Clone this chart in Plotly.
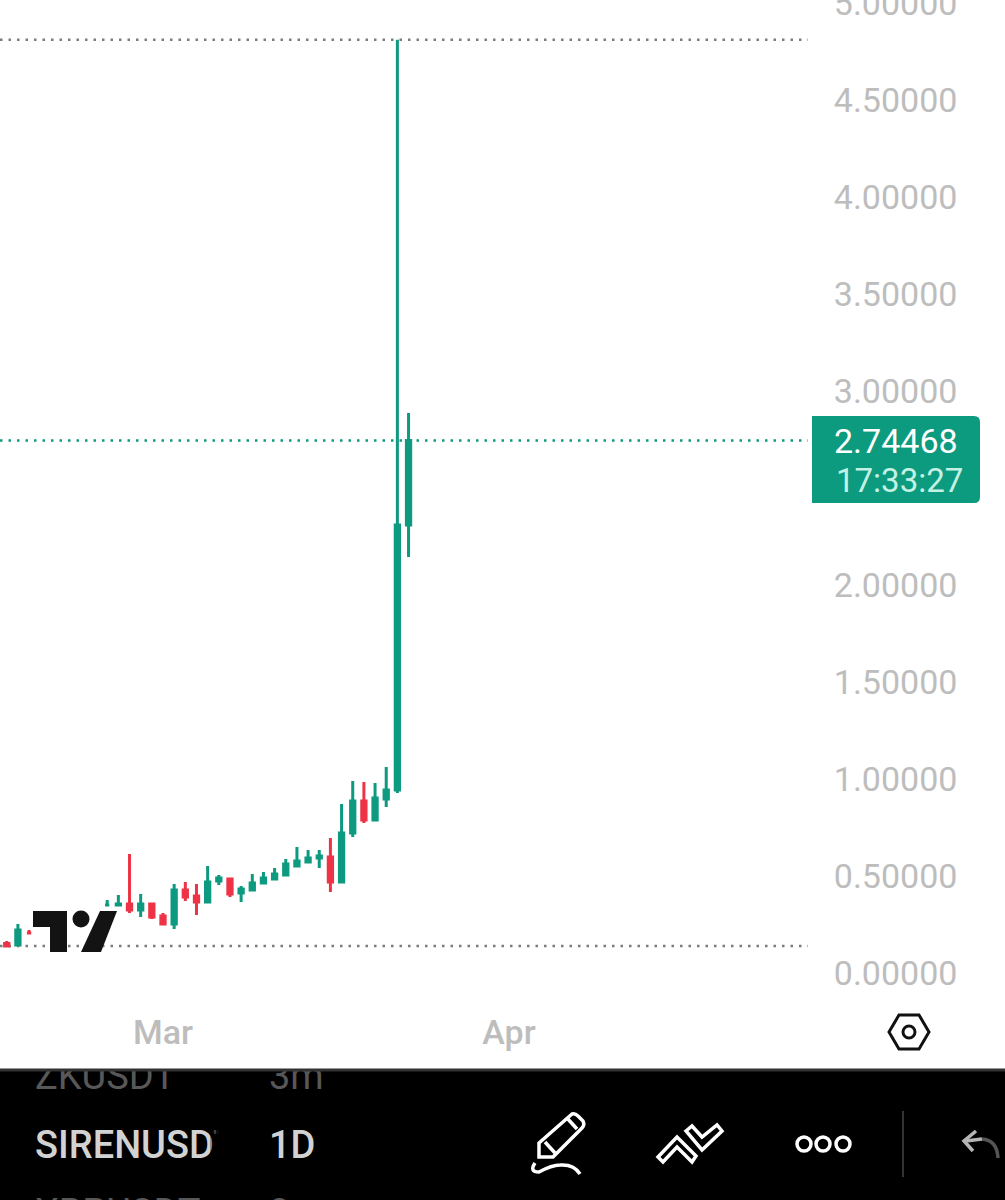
import plotly.graph_objects as go

# daily candles, a few days are hidden behind the TV logo so they are left out
dates = ['2026-02-15', '2026-02-16', '2026-02-17', '2026-02-24', '2026-02-25', '2026-02-26', '2026-02-27',
         '2026-02-28', '2026-03-01', '2026-03-02', '2026-03-03', '2026-03-04', '2026-03-05', '2026-03-06',
         '2026-03-07', '2026-03-08', '2026-03-09', '2026-03-10', '2026-03-11', '2026-03-12', '2026-03-13',
         '2026-03-14', '2026-03-15', '2026-03-16', '2026-03-17', '2026-03-18', '2026-03-19', '2026-03-20',
         '2026-03-21', '2026-03-22', '2026-03-23']
opens = [.152, .144, .206, .351, .351, .356, .325, .356, .294, .253, .428, .397, .366, .474, .485, .412,
         .428, .464, .485, .505, .552, .572, .593, .598, .469, .722, .887, .789, .897, .943, 2.309]
highs = [.165, .253, .222, .376, .402, .613, .407, .361, .309, .459, .469, .459, .552, .505, .485, .448,
         .510, .521, .541, .588, .649, .634, .634, .696, .871, .990, .985, .979, 1.062, 4.81, 2.887]
lows = [.139, .139, .206, .351, .351, .309, .289, .278, .247, .227, .371, .299, .361, .454, .392, .366,
        .428, .464, .485, .505, .552, .572, .541, .418, .469, .701, .773, .784, .856, .928, 2.144]
closes = [.139, .222, .206, .351, .356, .325, .356, .289, .253, .428, .392, .366, .469, .490, .407, .433,
          .464, .490, .510, .562, .577, .593, .603, .469, .722, .887, .789, .902, .943, 2.309, 2.74468]

y_ticks = [0, .5, 1, 1.5, 2, 3, 3.5, 4, 4.5, 5]  # 2.5 sits under the price label
x_tick_vals = ['2026-03-01', '2026-04-01']
x_tick_text = ['Mar', 'Apr']

high_level = 4.81
last_price = 2.74468
low_level = .139

symbols = ['ZKUSDT', 'SIRENUSDT', 'XRPUSDT']
intervals = ['3m', '1D', '3m']
row_y = [1079, 1148, 1216]
row_colors = ['#585858', '#d2d2d2', '#585858']
row_weights = [400, 500, 400]

GREEN = '#0d9a80'
RED = '#ee3347'
GREY = '#bdbdbd'
FONT = 'Roboto'

fig = go.Figure()
fig.add_trace(go.Candlestick(x=dates, open=opens, high=highs, low=lows, close=closes,
                             increasing=dict(line=dict(color=GREEN, width=3), fillcolor=GREEN),
                             decreasing=dict(line=dict(color=RED, width=3), fillcolor=RED),
                             whiskerwidth=0, showlegend=False, hoverinfo='skip'))

# empty trace so the pixel overlay axes exist
fig.add_trace(go.Scatter(x=[None], y=[None], xaxis='x2', yaxis='y2', mode='none', showlegend=False))

# watchlist rows, clipped by their own small subplot
fig.add_trace(go.Scatter(x=[35] * 3, y=row_y, text=symbols, mode='text', textposition='middle right',
                         textfont=dict(family=FONT, size=38, color=row_colors, weight=row_weights),
                         xaxis='x3', yaxis='y3', cliponaxis=True, showlegend=False, hoverinfo='skip'))
fig.add_trace(go.Scatter(x=[269] * 3, y=row_y, text=intervals, mode='text', textposition='middle right',
                         textfont=dict(family=FONT, size=38, color=row_colors, weight=row_weights),
                         xaxis='x3', yaxis='y3', cliponaxis=True, showlegend=False, hoverinfo='skip'))

shapes = []


def level_line(val, color):
    shapes.append(dict(type='line', xref='paper', yref='y', x0=0, x1=808 / 1005, y0=val, y1=val, layer='below',
                       line=dict(color=color, width=2.5, dash='2.5px,6px')))


def px_shape(**kw):
    kw.setdefault('layer', 'above')
    shapes.append(dict(xref='x2', yref='y2', **kw))


def stroke(path, color='#ffffff', width=3.5):
    px_shape(type='path', path=path, line=dict(color=color, width=width))


level_line(high_level, '#7c7c7c')
level_line(last_price, GREEN)
level_line(low_level, '#7c7c7c')

# bottom black panel
shapes.append(dict(type='rect', xref='paper', yref='paper', x0=0, x1=1, y0=0, y1=1 - 1069 / 1200, layer='below',
                   fillcolor='#000000', line=dict(width=0)))
px_shape(type='line', x0=0, x1=1005, y0=1070, y1=1070, line=dict(color='#333333', width=3))
# symbol name fades out at the column edge
for i, op in enumerate([.3, .55, .8, 1]):
    px_shape(type='rect', x0=210 + i * 3, x1=262, y0=1120, y1=1170, fillcolor='#000000', opacity=op, line=dict(width=0))

# TV logo
logo = '#131313'
px_shape(type='path', path='M33,911 L67,911 L67,952 L50,952 L50,927 L33,927 Z', fillcolor=logo, line=dict(width=0))
px_shape(type='circle', x0=72.5, x1=89.5, y0=910.5, y1=927.5, fillcolor=logo, line=dict(width=0))
px_shape(type='path', path='M100,911 L117,911 L101,952 L81,952 Z', fillcolor=logo, line=dict(width=0))

# price label
px_shape(type='path', path='M812,416 L974,416 Q980,416 980,422 L980,497 Q980,503 974,503 L812,503 Z',
         fillcolor='#0d9b80', line=dict(width=0))

# settings hexagon
stroke('M889,1032 L899,1015 L919,1015 L929,1032 L919,1049 L899,1049 Z', '#111111', 3)
px_shape(type='circle', x0=903, x1=915, y0=1026, y1=1038, line=dict(color='#111111', width=3))

# toolbar icons
stroke('M539,1143 L572,1114 Q575,1113 578,1116 L583,1121 Q585,1125 582,1128 L553,1157 L539,1157 Z')
stroke('M545,1142 L555,1153')
stroke('M567,1118 L577,1129')
stroke('M535,1163 Q529,1172 539,1172 Q552,1165 560,1165 Q574,1164 580,1174')
stroke('M658,1157 L677,1137 L696,1156 L692,1162 L677,1147 L663,1162 Z')
stroke('M686,1131 L692,1126 L702,1137 L717,1125 L722,1131 L702,1150 Z')
for cx in [804, 823, 843]:
    px_shape(type='circle', x0=cx - 7, x1=cx + 7, y0=1137, y1=1151, line=dict(color='#ffffff', width=3.5))
px_shape(type='line', x0=903, x1=903, y0=1111, y1=1177, line=dict(color='#333333', width=2))
stroke('M976,1131 L964,1141 L973,1151', '#b5b5b5', 3.5)
stroke('M966,1141 L982,1139', '#b5b5b5', 3.5)
stroke('M982,1139 Q997,1140 998,1158', '#555555', 3.5)

annotations = [
    dict(x=896, y=441, text='2.74468', font=dict(family=FONT, size=34, color='#ffffff'),
         xref='x2', yref='y2', showarrow=False),
    dict(x=899, y=480, text='17:33:27', font=dict(family=FONT, size=33, color='#c4f1e4'),
         xref='x2', yref='y2', showarrow=False),
]

fig.update_layout(
    width=1005, height=1200, margin=dict(l=0, r=0, t=0, b=0, autoexpand=False), autosize=False,
    paper_bgcolor='#ffffff', plot_bgcolor='rgba(0,0,0,0)', boxgap=.45,
    shapes=shapes, annotations=annotations, showlegend=False, hovermode=False,
    xaxis=dict(domain=[0, 810 / 1005], type='date', range=['2026-02-14 09:29', '2026-04-27 23:18'],
               rangeslider=dict(visible=False), showgrid=False, zeroline=False, showline=False,
               tickmode='array', tickvals=x_tick_vals, ticktext=x_tick_text, ticks='outside', ticklen=3,
               tickcolor='rgba(0,0,0,0)', tickfont=dict(family=FONT, size=34, color=GREY, weight=500)),
    yaxis=dict(domain=[1 - 999 / 1200, 1], range=[-.134, 5.0155], side='right', showgrid=False, zeroline=False,
               showline=False, tickmode='array', tickvals=y_ticks, tickformat='.5f', ticks='outside', ticklen=16,
               tickcolor='rgba(0,0,0,0)', tickfont=dict(family=FONT, size=34, color=GREY),
               ticklabeloverflow='allow', automargin=False),
    xaxis2=dict(domain=[0, 1], range=[0, 1005], visible=False, anchor='y2', fixedrange=True),
    yaxis2=dict(domain=[0, 1], range=[1200, 0], visible=False, anchor='x2', fixedrange=True),
    xaxis3=dict(domain=[0, 1], range=[0, 1005], visible=False, anchor='y3', fixedrange=True),
    yaxis3=dict(domain=[0, 1 - 1071 / 1200], range=[1200, 1071], visible=False, anchor='x3', fixedrange=True),
)

fig.write_html("out.html", config=dict(displayModeBar=False), post_script="document.body.style.margin='0';")
